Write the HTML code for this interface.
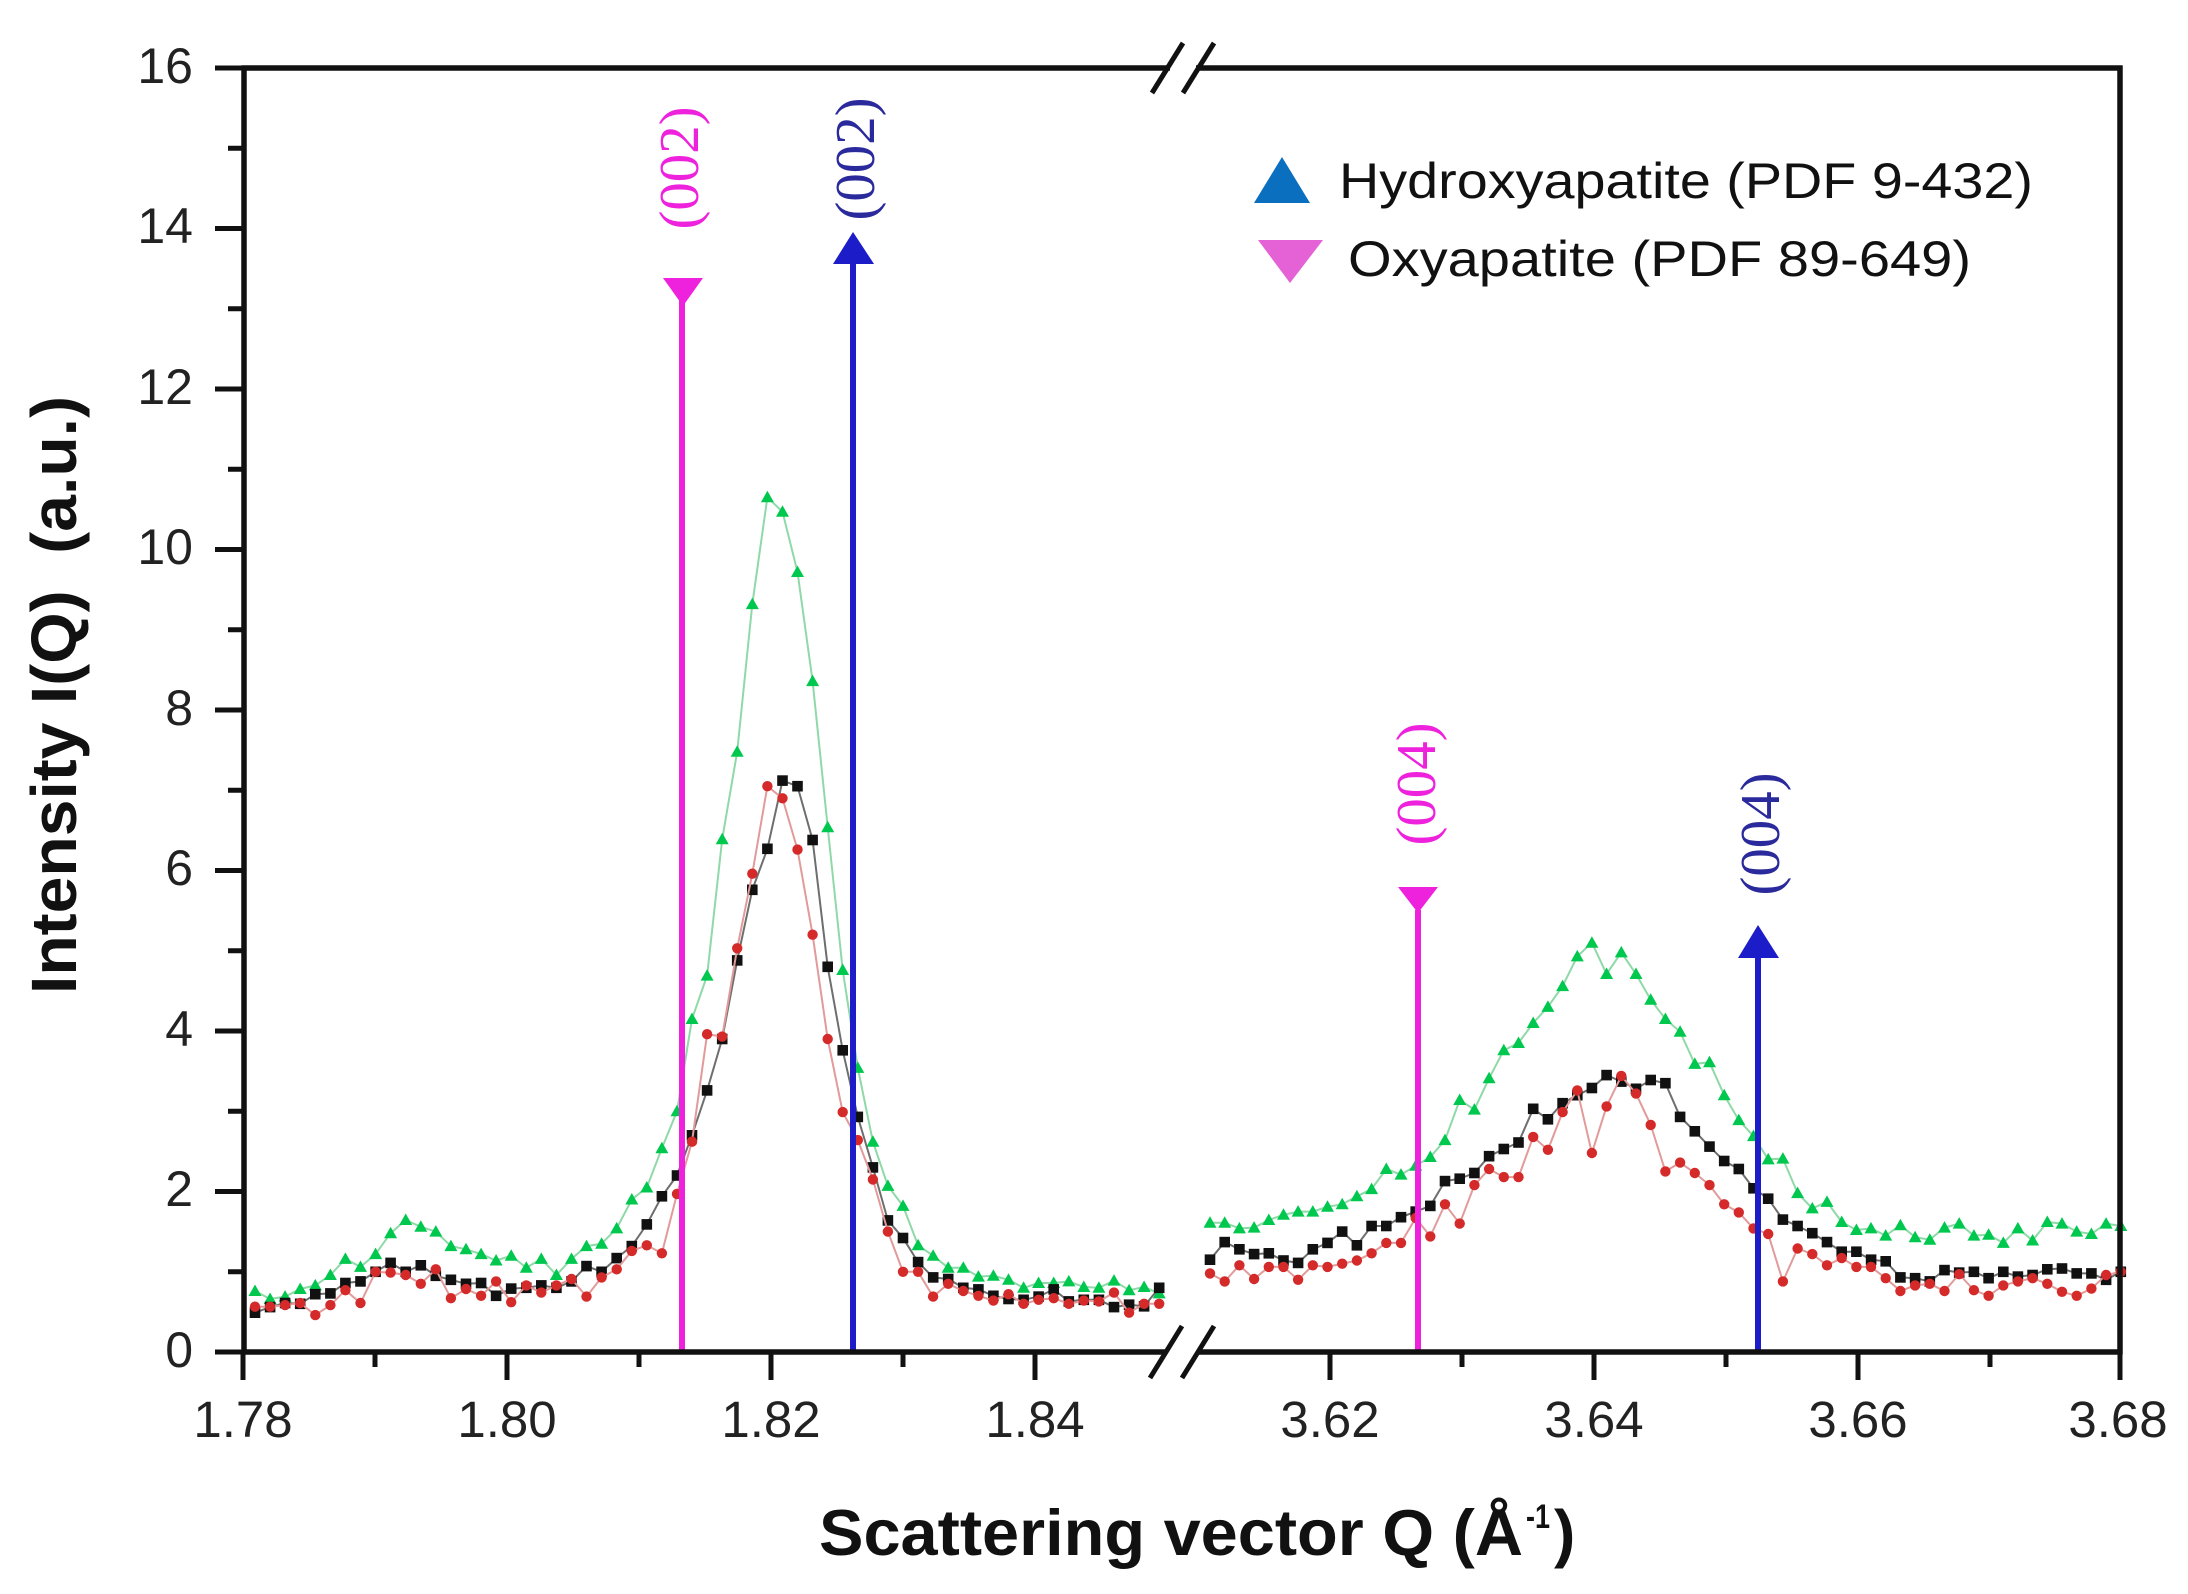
<!DOCTYPE html>
<html>
<head>
<meta charset="utf-8">
<style>
  html, body { margin: 0; padding: 0; background: #ffffff; }
  svg { display: block; }
  .tick { font-family: "Liberation Sans", Arial, sans-serif; font-size: 50px; fill: #222; }
</style>
</head>
<body>
<svg id="chart" xmlns="http://www.w3.org/2000/svg" width="2188" height="1594" viewBox="0 0 2188 1594">
  <rect x="0" y="0" width="2188" height="1594" fill="#ffffff"/>

  <!-- data layer -->
  <g id="data"></g>

  <!-- reference lines -->
  <g id="refs">
    <line x1="682" y1="300" x2="682" y2="1352" stroke="#ee22dd" stroke-width="6"/>
    <polygon points="663,278 703,278 683,306" fill="#ee22dd"/>
    <line x1="853" y1="262" x2="853" y2="1352" stroke="#1c1cc8" stroke-width="6"/>
    <polygon points="833,264 874,264 853,232" fill="#1c1cc8"/>
    <line x1="1418" y1="910" x2="1418" y2="1352" stroke="#ee22dd" stroke-width="6"/>
    <polygon points="1398,887 1438,887 1418,913" fill="#ee22dd"/>
    <line x1="1758" y1="956" x2="1758" y2="1352" stroke="#1c1cc8" stroke-width="6"/>
    <polygon points="1738,958 1779,958 1758,925" fill="#1c1cc8"/>

    <text transform="translate(698,168) rotate(-90)" text-anchor="middle" font-family="Liberation Serif, serif" font-size="56" fill="#ee22dd" textLength="123" lengthAdjust="spacingAndGlyphs">(002)</text>
    <text transform="translate(874,159) rotate(-90)" text-anchor="middle" font-family="Liberation Serif, serif" font-size="56" fill="#2a2a9c" textLength="123" lengthAdjust="spacingAndGlyphs">(002)</text>
    <text transform="translate(1435,784) rotate(-90)" text-anchor="middle" font-family="Liberation Serif, serif" font-size="56" fill="#ee22dd" textLength="123" lengthAdjust="spacingAndGlyphs">(004)</text>
    <text transform="translate(1779,834) rotate(-90)" text-anchor="middle" font-family="Liberation Serif, serif" font-size="56" fill="#2a2a9c" textLength="123" lengthAdjust="spacingAndGlyphs">(004)</text>
  </g>

  <!-- frame -->
  <g stroke="#111" stroke-width="5.5" fill="none" stroke-linecap="butt">
    <line x1="244" y1="65.5" x2="244" y2="1354.5"/>
    <line x1="241.5" y1="68" x2="1170" y2="68"/>
    <line x1="1196" y1="68" x2="2122.5" y2="68"/>
    <line x1="2120" y1="65.5" x2="2120" y2="1354.5"/>
    <line x1="241.5" y1="1352" x2="1166" y2="1352"/>
    <line x1="1198" y1="1352" x2="2122.5" y2="1352"/>
  </g>
  <!-- break marks -->
  <g stroke="#111" stroke-width="5" fill="none">
    <line x1="1183" y1="43" x2="1152" y2="93"/>
    <line x1="1214" y1="43" x2="1183" y2="93"/>
    <line x1="1182" y1="1326" x2="1150" y2="1378"/>
    <line x1="1214" y1="1326" x2="1182" y2="1378"/>
  </g>

  <!-- ticks -->
  <g id="ticks" stroke="#111" stroke-width="5"></g>

  <!-- y tick labels -->
  <g class="tick" text-anchor="end">
    <text x="193" y="1367">0</text>
    <text x="193" y="1206">2</text>
    <text x="193" y="1046">4</text>
    <text x="193" y="885">6</text>
    <text x="193" y="725">8</text>
    <text x="193" y="564">10</text>
    <text x="193" y="404">12</text>
    <text x="193" y="243">14</text>
    <text x="193" y="83">16</text>
  </g>
  <!-- x tick labels -->
  <g class="tick" text-anchor="middle" style="font-size:51px">
    <text x="243" y="1437">1.78</text>
    <text x="507" y="1437">1.80</text>
    <text x="771" y="1437">1.82</text>
    <text x="1035" y="1437">1.84</text>
    <text x="1330" y="1437">3.62</text>
    <text x="1594" y="1437">3.64</text>
    <text x="1858" y="1437">3.66</text>
    <text x="2118" y="1437">3.68</text>
  </g>

  <!-- axis titles -->
  <text transform="translate(76,695) rotate(-90)" text-anchor="middle" font-family="Liberation Sans, Arial, sans-serif" font-weight="bold" font-size="64" fill="#111" textLength="598" lengthAdjust="spacingAndGlyphs" xml:space="preserve">Intensity I(Q)  (a.u.)</text>
  <text x="819" y="1555" font-family="Liberation Sans, Arial, sans-serif" font-weight="bold" font-size="65" fill="#111" textLength="704" lengthAdjust="spacingAndGlyphs">Scattering vector Q (Å</text>
  <text x="1526" y="1528" font-family="Liberation Sans, Arial, sans-serif" font-weight="bold" font-size="34" fill="#111" textLength="24" lengthAdjust="spacingAndGlyphs">-1</text>
  <text x="1554" y="1555" font-family="Liberation Sans, Arial, sans-serif" font-weight="bold" font-size="64" fill="#111">)</text>

  <!-- legend -->
  <polygon points="1254,203 1310,203 1282,157" fill="#0a6fbf"/>
  <text x="1339" y="198" font-family="Liberation Sans, Arial, sans-serif" font-size="50" fill="#111" textLength="694" lengthAdjust="spacingAndGlyphs">Hydroxyapatite (PDF 9-432)</text>
  <polygon points="1258,240 1323,240 1290,283" fill="#e462d6"/>
  <text x="1348" y="276" font-family="Liberation Sans, Arial, sans-serif" font-size="50" fill="#111" textLength="623" lengthAdjust="spacingAndGlyphs">Oxyapatite (PDF 89-649)</text>
</svg>

<script>
(function(){
  var NS = "http://www.w3.org/2000/svg";
  var Y = function(v){ return 1352 - v*80.25; };
  var Lx = function(k){ return 255 + 15.07*k; };
  var Rx = function(k){ return 1210 + 14.69*k; };

  var gL = [0.76,0.66,0.69,0.785,0.83,0.96,1.16,1.06,1.22,1.48,1.645,1.56,1.50,1.32,1.28,1.22,1.14,1.20,1.05,1.16,0.96,1.16,1.32,1.35,1.54,1.90,2.05,2.54,3.0,4.15,4.69,6.39,7.48,9.32,10.65,10.47,9.72,8.36,6.54,4.76,3.54,2.62,2.07,1.82,1.33,1.2,1.05,1.05,0.94,0.95,0.9,0.8,0.86,0.86,0.88,0.81,0.8,0.89,0.77,0.81,0.73];
  var bL = [0.49,0.56,0.61,0.60,0.72,0.73,0.86,0.88,1.0,1.11,1.0,1.08,0.95,0.90,0.85,0.86,0.70,0.79,0.80,0.83,0.80,0.88,1.07,1.0,1.17,1.32,1.59,1.94,2.2,2.7,3.26,3.9,4.88,5.76,6.27,7.12,7.05,6.38,4.8,3.76,2.93,2.3,1.64,1.42,1.12,0.93,0.91,0.8,0.78,0.7,0.66,0.65,0.69,0.78,0.63,0.65,0.65,0.56,0.59,0.57,0.80];
  var rL = [0.565,0.565,0.585,0.61,0.46,0.585,0.77,0.61,1.0,0.99,0.96,0.85,1.03,0.67,0.785,0.70,0.88,0.62,0.83,0.74,0.83,0.91,0.69,0.93,1.03,1.26,1.33,1.23,1.97,2.62,3.96,3.93,5.03,5.96,7.05,6.9,6.26,5.2,3.9,2.99,2.64,2.15,1.50,1.0,1.0,0.69,0.85,0.76,0.70,0.64,0.72,0.60,0.65,0.67,0.60,0.64,0.63,0.74,0.49,0.60,0.60];

  var gR = [1.61,1.61,1.54,1.55,1.645,1.71,1.75,1.75,1.81,1.84,1.94,2.03,2.28,2.21,2.32,2.43,2.64,3.14,3.02,3.41,3.76,3.85,4.10,4.30,4.56,4.93,5.10,4.71,4.98,4.71,4.39,4.15,3.99,3.59,3.61,3.20,2.89,2.69,2.40,2.41,1.98,1.79,1.87,1.62,1.52,1.54,1.45,1.58,1.43,1.40,1.55,1.60,1.45,1.46,1.36,1.54,1.39,1.62,1.60,1.50,1.47,1.60,1.57];
  var bR = [1.15,1.37,1.28,1.22,1.23,1.14,1.11,1.28,1.36,1.50,1.33,1.57,1.57,1.68,1.75,1.82,2.13,2.16,2.23,2.44,2.53,2.61,3.03,2.90,3.1,3.20,3.29,3.45,3.37,3.28,3.39,3.35,2.93,2.75,2.56,2.38,2.28,2.04,1.91,1.65,1.57,1.48,1.37,1.25,1.25,1.15,1.13,0.93,0.92,0.88,1.02,0.99,1.0,0.92,1.0,0.94,0.96,1.03,1.04,0.98,0.98,0.90,1.0];
  var rR = [0.98,0.88,1.08,0.91,1.06,1.06,0.90,1.08,1.06,1.10,1.14,1.23,1.36,1.36,1.67,1.44,1.84,1.60,2.08,2.28,2.18,2.18,2.68,2.52,2.99,3.26,2.48,3.06,3.44,3.22,2.83,2.25,2.36,2.23,2.08,1.84,1.74,1.54,1.47,0.88,1.29,1.22,1.08,1.17,1.06,1.06,0.92,0.76,0.83,0.85,0.76,0.97,0.77,0.70,0.83,0.88,0.92,0.85,0.75,0.70,0.79,0.96,1.0];

  var data = document.getElementById("data");
  function el(tag, attrs){
    var e = document.createElementNS(NS, tag);
    for (var k in attrs) e.setAttribute(k, attrs[k]);
    data.appendChild(e);
    return e;
  }
  function series(arr, xf, lineColor, markColor, shape){
    var pts = [];
    for (var i=0;i<arr.length;i++) pts.push(xf(i).toFixed(1)+","+Y(arr[i]).toFixed(1));
    el("polyline", {points: pts.join(" "), fill:"none", stroke: lineColor, "stroke-width": "2"});
    for (var j=0;j<arr.length;j++){
      var x = xf(j), y = Y(arr[j]);
      if (shape === "tri"){
        el("polygon", {points: (x-6.5).toFixed(1)+","+(y+5).toFixed(1)+" "+(x+6.5).toFixed(1)+","+(y+5).toFixed(1)+" "+x.toFixed(1)+","+(y-6.5).toFixed(1), fill: markColor});
      } else if (shape === "sq"){
        el("rect", {x:(x-5.3).toFixed(1), y:(y-5.3).toFixed(1), width:"10.6", height:"10.6", fill: markColor});
      } else {
        el("circle", {cx:x.toFixed(1), cy:y.toFixed(1), r:"5.2", fill: markColor});
      }
    }
  }
  series(gL, Lx, "#8fd9a8", "#00c84e", "tri");
  series(gR, Rx, "#8fd9a8", "#00c84e", "tri");
  series(bL, Lx, "#6e6e6e", "#111111", "sq");
  series(bR, Rx, "#6e6e6e", "#111111", "sq");
  series(rL, Lx, "#e29a9a", "#d42a2a", "circ");
  series(rR, Rx, "#e29a9a", "#d42a2a", "circ");

  // ticks
  var tg = document.getElementById("ticks");
  function tl(x1,y1,x2,y2){
    var e = document.createElementNS(NS, "line");
    e.setAttribute("x1",x1); e.setAttribute("y1",y1); e.setAttribute("x2",x2); e.setAttribute("y2",y2);
    tg.appendChild(e);
  }
  for (var n=0;n<=16;n++){
    var yy = 1352 - n*80.25;
    if (n%2===0) tl(215,yy,244,yy); else if (n<16) tl(228,yy,244,yy);
  }
  var majL=[243,507,771,1035], minL=[375,639,903];
  var majR=[1330,1594,1858,2120], minR=[1462,1726,1990];
  majL.concat(majR).forEach(function(x){ tl(x,1352,x,1380); });
  minL.concat(minR).forEach(function(x){ tl(x,1352,x,1367); });
})();
</script>
</body>
</html>
